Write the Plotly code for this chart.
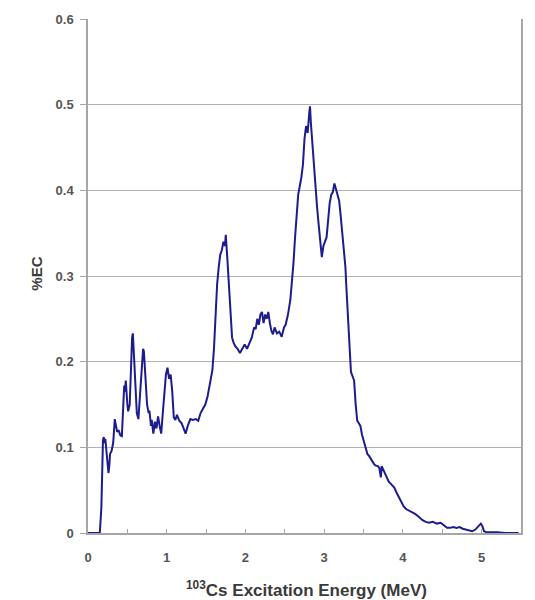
import plotly.graph_objects as go

# Excitation energy (MeV) and electron-capture fraction (%EC)
energy = [
    0.00, 0.10, 0.15, 0.17, 0.18, 0.19, 0.20, 0.21, 0.22, 0.24, 0.26, 0.27, 0.28, 0.30,
    0.32, 0.34, 0.35, 0.37, 0.39, 0.41, 0.43, 0.45, 0.46, 0.47, 0.48, 0.50, 0.51, 0.53,
    0.55, 0.56, 0.57, 0.58, 0.60, 0.62, 0.64, 0.66, 0.68, 0.70, 0.71, 0.73, 0.75, 0.77,
    0.78, 0.80, 0.81, 0.83, 0.85, 0.87, 0.89, 0.91, 0.93, 0.95, 0.97, 0.99, 1.01, 1.03,
    1.05, 1.07, 1.09, 1.11, 1.13, 1.16, 1.19, 1.22, 1.24, 1.27, 1.30, 1.33, 1.37, 1.40,
    1.43, 1.46, 1.49, 1.52, 1.55, 1.58, 1.60, 1.62, 1.64, 1.66, 1.68, 1.70, 1.72, 1.74,
    1.75, 1.77, 1.79, 1.81, 1.83, 1.85, 1.87, 1.90, 1.93, 1.96, 1.99, 2.02, 2.05, 2.08,
    2.11, 2.13, 2.15, 2.17, 2.19, 2.21, 2.23, 2.25, 2.27, 2.29, 2.31, 2.33, 2.35, 2.37,
    2.40, 2.43, 2.46, 2.49, 2.51, 2.54, 2.57, 2.59, 2.61, 2.63, 2.65, 2.67, 2.69, 2.71,
    2.73, 2.75, 2.77, 2.79, 2.81, 2.82, 2.83, 2.85, 2.87, 2.89, 2.91, 2.93, 2.95, 2.97,
    2.99, 3.01, 3.03, 3.05, 3.07, 3.09, 3.11, 3.13, 3.15, 3.17, 3.19, 3.21, 3.23, 3.25,
    3.27, 3.28, 3.30, 3.31, 3.32, 3.34, 3.36, 3.38, 3.40, 3.42, 3.44, 3.46, 3.48, 3.50,
    3.53, 3.55, 3.57, 3.60, 3.63, 3.65, 3.68, 3.70, 3.71, 3.72, 3.73, 3.75, 3.78, 3.80,
    3.82, 3.85, 3.87, 3.89, 3.92, 3.95, 3.98, 4.01, 4.04, 4.08, 4.12, 4.16, 4.20, 4.25,
    4.29, 4.33, 4.38, 4.43, 4.48, 4.52, 4.56, 4.60, 4.64, 4.68, 4.72, 4.76, 4.80, 4.84,
    4.88, 4.92, 4.96, 4.99, 5.01, 5.03, 5.06, 5.10, 5.20, 5.30, 5.40, 5.47,
]
pct_ec = [
    0.000, 0.000, 0.000, 0.030, 0.080, 0.108, 0.112, 0.105, 0.110, 0.085, 0.070, 0.078, 0.092, 0.096,
    0.105, 0.133, 0.128, 0.118, 0.120, 0.114, 0.113, 0.150, 0.172, 0.165, 0.178, 0.150, 0.142, 0.150,
    0.205, 0.228, 0.233, 0.215, 0.175, 0.140, 0.133, 0.165, 0.195, 0.215, 0.212, 0.185, 0.150, 0.140,
    0.143, 0.125, 0.132, 0.116, 0.130, 0.122, 0.136, 0.125, 0.116, 0.140, 0.165, 0.185, 0.193, 0.180,
    0.185, 0.165, 0.135, 0.132, 0.138, 0.131, 0.128, 0.122, 0.116, 0.126, 0.133, 0.132, 0.133, 0.131,
    0.140, 0.145, 0.150, 0.160, 0.175, 0.190, 0.215, 0.260, 0.290, 0.310, 0.325, 0.330, 0.340, 0.335,
    0.348, 0.320, 0.285, 0.255, 0.228, 0.222, 0.218, 0.215, 0.210, 0.215, 0.220, 0.215, 0.222, 0.228,
    0.240, 0.238, 0.250, 0.243, 0.255, 0.258, 0.245, 0.255, 0.250, 0.258, 0.245, 0.236, 0.232, 0.240,
    0.233, 0.235, 0.229, 0.240, 0.243, 0.255, 0.272, 0.290, 0.315, 0.345, 0.372, 0.395, 0.405, 0.415,
    0.430, 0.460, 0.475, 0.467, 0.490, 0.498, 0.480, 0.452, 0.425, 0.400, 0.380, 0.360, 0.340, 0.322,
    0.335, 0.340, 0.345, 0.365, 0.385, 0.395, 0.398, 0.408, 0.402, 0.395, 0.388, 0.370, 0.350, 0.336,
    0.310, 0.290, 0.255, 0.245, 0.220, 0.188, 0.183, 0.178, 0.150, 0.131, 0.128, 0.125, 0.115, 0.108,
    0.098, 0.092, 0.090, 0.085, 0.081, 0.079, 0.078, 0.076, 0.068, 0.065, 0.078, 0.074, 0.070, 0.064,
    0.060, 0.057, 0.055, 0.053, 0.047, 0.042, 0.036, 0.031, 0.028, 0.026, 0.024, 0.022, 0.019, 0.015,
    0.013, 0.012, 0.013, 0.011, 0.012, 0.009, 0.006, 0.006, 0.007, 0.006, 0.007, 0.005, 0.004, 0.003,
    0.002, 0.004, 0.008, 0.011, 0.008, 0.002, 0.001, 0.001, 0.001, 0.000, 0.000, 0.000,
]

x_ticks = [0, 1, 2, 3, 4, 5]
y_ticks = [0, 0.1, 0.2, 0.3, 0.4, 0.5, 0.6]
y_labels = ["0", "0.1", "0.2", "0.3", "0.4", "0.5", "0.6"]

axis_grey = "#a6a6a6"
font_family = "Liberation Sans, Arial, sans-serif"
label_font = dict(family=font_family, size=13, color="#555555", weight="bold")
title_font = dict(family=font_family, size=17, color="#3a3a3a", weight="bold")

fig = go.Figure(
    go.Scatter(
        x=energy, y=pct_ec, mode="lines",
        line=dict(color="#1c1c8e", width=2),
        hoverinfo="skip",
    )
)

fig.update_layout(
    width=535, height=600,
    margin=dict(l=88, r=12, t=15, b=67),
    paper_bgcolor="white", plot_bgcolor="white",
    showlegend=False,
)

fig.update_xaxes(
    range=[0, 5.5],
    tickvals=x_ticks, ticktext=[str(v) for v in x_ticks],
    ticks="inside", ticklen=4, tickcolor=axis_grey, tickwidth=1,
    minor=dict(dtick=0.5, tick0=0, ticks="inside", ticklen=4, tickcolor=axis_grey, showgrid=False),
    showgrid=False, zeroline=False,
    showline=True, linecolor=axis_grey, linewidth=1.5, mirror=False,
    tickfont=label_font, ticklabelstandoff=12,
)

fig.update_yaxes(
    range=[0, 0.6],
    tickvals=y_ticks, ticktext=y_labels,
    ticks="outside", ticklen=6, tickcolor=axis_grey, tickwidth=1,
    showgrid=True, gridcolor="#b3b3b3", gridwidth=1,
    zeroline=False,
    showline=True, linecolor=axis_grey, linewidth=1.5, mirror=True,
    tickfont=label_font, ticklabelstandoff=4,
)

# Axis titles
fig.add_annotation(
    text="<sup>103</sup>Cs Excitation Energy (MeV)",
    xref="paper", yref="paper", x=0.505, y=-0.108,
    xanchor="center", yanchor="middle",
    showarrow=False, font=title_font,
)
fig.add_annotation(
    text="%EC", textangle=-90,
    xref="paper", yref="paper", x=-0.1195, y=0.505,
    xanchor="center", yanchor="middle",
    showarrow=False, font=dict(family=font_family, size=15, color="#3a3a3a", weight="bold"),
)

fig.write_html("out.html")
